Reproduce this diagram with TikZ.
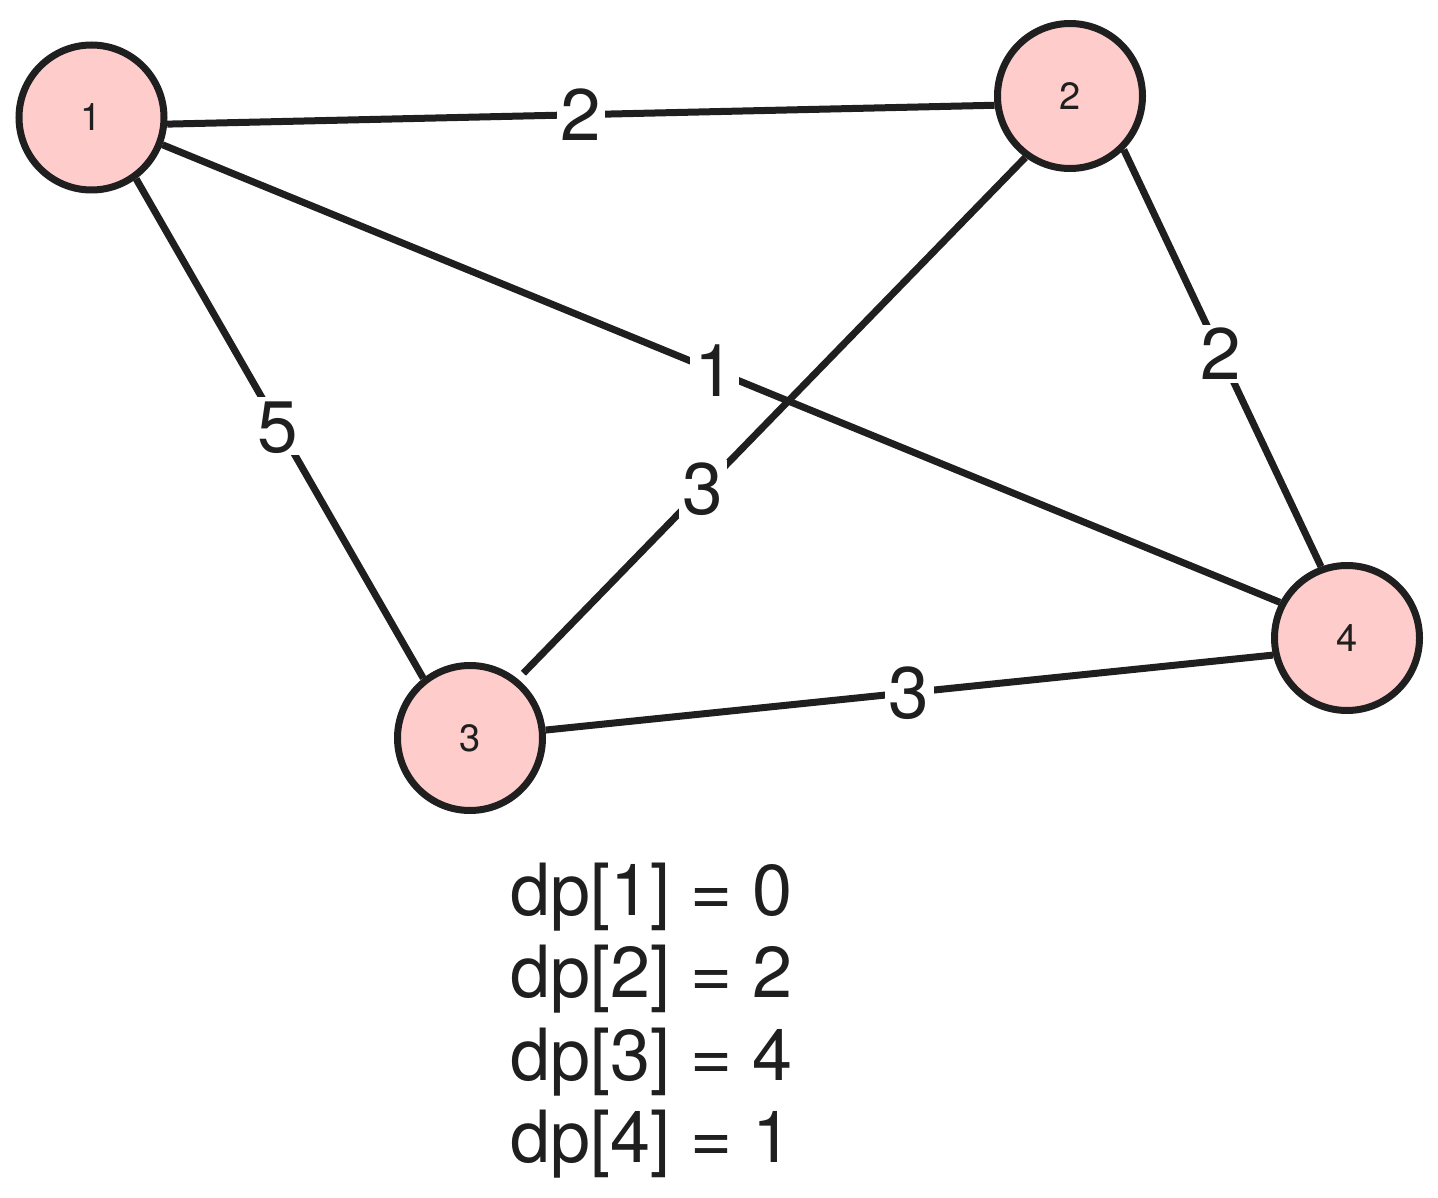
\documentclass[tikz,border=0pt]{standalone}
\usepackage{fontspec}
\setmainfont{TeX Gyre Heros}
\definecolor{ink}{RGB}{31,31,31}
\definecolor{nodepink}{RGB}{255,204,204}
\tikzset{
  vert/.style={circle, draw=ink, fill=nodepink, line width=7pt, minimum size=145pt, inner sep=0pt, text=ink, font=\fontsize{38}{42}\selectfont},
  edge/.style={draw=ink, line width=7pt},
  wlab/.style={fill=white, text=ink, font=\fontsize{73}{80}\selectfont, text height=52pt, text depth=0pt, inner xsep=4pt, inner ysep=3pt},
  dptext/.style={anchor=base west, text=ink, font=\fontsize{72}{82}\selectfont, inner sep=0pt}
}
\begin{document}
\begin{tikzpicture}[x=1pt, y=-1pt]
\useasboundingbox (0,0) rectangle (1438,1198);
\node[vert] (n1) at (91.5,117.5) {1};
\node[vert] (n2) at (1070,96) {2};
\node[vert] (n3) at (470,738) {3};
\node[vert] (n4) at (1347,638) {4};
\draw[edge] (n1.-5) -- (n2.187) node[wlab, pos=0.5] (l12) {2};
\draw[edge] (n1.-21) -- (n4.152) node[wlab, pos=0.494] (l14) {1};
\draw[edge] (n1.-54.5) -- (n3.128) node[wlab, pos=0.495] (l13) {5};
\draw[edge, shorten >=8pt] (n2.234.8) -- (n3.51) node[wlab, pos=0.635] (l23) {3};
\draw[edge] (n2.-45.5) -- (n4.110) node[wlab, pos=0.49] (l24) {2};
\draw[edge] (n3.6) -- (n4.193) node[wlab, pos=0.5] (l34) {3};
\node[dptext] (dp1) at (510,915) {dp[1] = 0};
\node[dptext] (dp2) at (510,997) {dp[2] = 2};
\node[dptext] (dp3) at (510,1080) {dp[3] = 4};
\node[dptext] (dp4) at (510,1162) {dp[4] = 1};
\end{tikzpicture}
\end{document}
